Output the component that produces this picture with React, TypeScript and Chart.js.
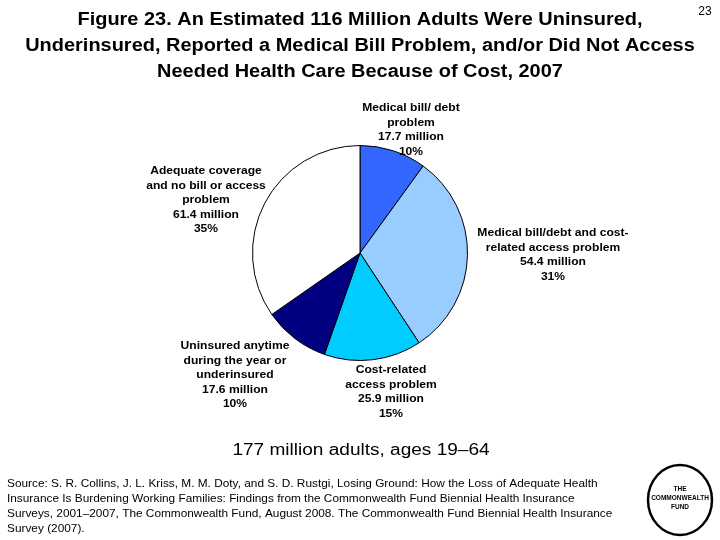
import React, { useEffect, useRef } from "react";
import { Chart, registerables } from "chart.js";

Chart.register(...registerables);

const categories = [
  "Medical bill/ debt problem",
  "Medical bill/debt and cost-related access problem",
  "Cost-related access problem",
  "Uninsured anytime during the year or underinsured",
  "Adequate coverage and no bill or access problem",
];
const millions = [17.7, 54.4, 25.9, 17.6, 61.4];
const percents = ["10%", "31%", "15%", "10%", "35%"];
const colors = ["#3366FF", "#99CCFF", "#00CCFF", "#000080", "#FFFFFF"];
const labelLines = [
  ["Medical bill/ debt", "problem"],
  ["Medical bill/debt and cost-", "related access problem"],
  ["Cost-related", "access problem"],
  ["Uninsured anytime", "during the year or", "underinsured"],
  ["Adequate coverage", "and no bill or access", "problem"],
];
const labelPos = [
  [411, 108],
  [553, 233],
  [391, 370],
  [235, 346],
  [206, 171],
];
const titleLines = [
  "Figure 23. An Estimated 116 Million Adults Were Uninsured,",
  "Underinsured, Reported a Medical Bill Problem, and/or Did Not Access",
  "Needed Health Care Because of Cost, 2007",
];
const subtitle = "177 million adults, ages 19\u201364";
const sourceLines = [
  "Source: S. R. Collins, J. L. Kriss, M. M. Doty, and S. D. Rustgi, Losing Ground: How the Loss of Adequate Health",
  "Insurance Is Burdening Working Families: Findings from the Commonwealth Fund Biennial Health Insurance",
  "Surveys, 2001\u20132007, The Commonwealth Fund, August 2008. The Commonwealth Fund Biennial Health Insurance",
  "Survey (2007).",
];
const pageNumber = "23";

function scaledText(
  ctx: CanvasRenderingContext2D,
  text: string,
  x: number,
  y: number,
  sx: number,
  align: "left" | "center"
) {
  ctx.save();
  ctx.translate(x, y);
  ctx.scale(sx, 1);
  ctx.textAlign = align;
  ctx.fillText(text, 0, 0);
  ctx.restore();
}

const textPlugin = {
  id: "texts",
  afterDraw(chart: any) {
    const ctx = chart.ctx as CanvasRenderingContext2D;
    ctx.save();
    ctx.fillStyle = "#000";
    ctx.textBaseline = "middle";
    ctx.font = "bold 17.5px 'Liberation Sans', Arial, sans-serif";
    titleLines.forEach((t, i) => scaledText(ctx, t, 360, 20 + i * 26, 1.14, "center"));
    ctx.font = "12px 'Liberation Sans', Arial, sans-serif";
    scaledText(ctx, pageNumber, 705, 12, 1, "center");

    ctx.font = "bold 11px 'Liberation Sans', Arial, sans-serif";
    categories.forEach((_, i) => {
      const lines = [...labelLines[i], `${millions[i]} million`, percents[i]];
      const [x, y] = labelPos[i];
      lines.forEach((l, j) => scaledText(ctx, l, x, y + j * 14.6, 1.1, "center"));
    });

    ctx.font = "16px 'Liberation Sans', Arial, sans-serif";
    scaledText(ctx, subtitle, 361, 451, 1.19, "center");

    ctx.font = "11px 'Liberation Sans', Arial, sans-serif";
    sourceLines.forEach((l, i) => scaledText(ctx, l, 7, 484 + i * 15, 1.076, "left"));

    // logo
    ctx.beginPath();
    ctx.ellipse(680, 500, 32, 35, 0, 0, Math.PI * 2);
    ctx.lineWidth = 2.5;
    ctx.strokeStyle = "#000";
    ctx.stroke();
    ctx.font = "bold 6.5px 'Liberation Sans', Arial, sans-serif";
    scaledText(ctx, "THE", 680, 489, 1, "center");
    scaledText(ctx, "COMMONWEALTH", 680, 498, 1, "center");
    scaledText(ctx, "FUND", 680, 507, 1, "center");
    ctx.restore();
  },
};

export default function App() {
  const ref = useRef<HTMLCanvasElement>(null);
  useEffect(() => {
    if (!ref.current) return;
    const chart = new Chart(ref.current, {
      type: "pie",
      data: {
        labels: categories,
        datasets: [
          {
            data: millions,
            backgroundColor: colors,
            borderColor: "#000",
            borderWidth: 1,
          },
        ],
      },
      options: {
        responsive: false,
        animation: false,
        layout: { padding: { top: 145, bottom: 179, left: 252, right: 252 } },
        plugins: {
          legend: { display: false },
          tooltip: { enabled: false },
          title: { display: false },
        },
      },
      plugins: [textPlugin],
    });
    return () => chart.destroy();
  }, []);
  return (
    <canvas
      ref={ref}
      width={720}
      height={540}
      style={{ position: "absolute", left: 0, top: 0, background: "#fff" }}
    />
  );
}
